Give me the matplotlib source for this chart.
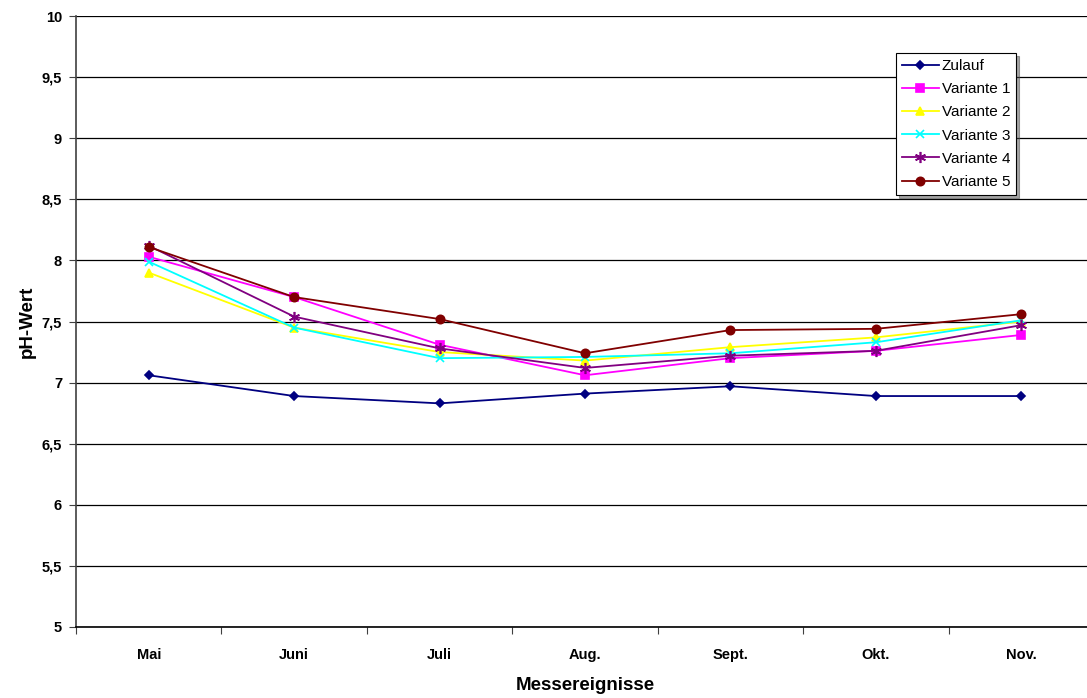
import matplotlib
matplotlib.use("Agg")
import matplotlib.pyplot as plt

plt.rcParams['font.family'] = ['Liberation Sans', 'DejaVu Sans']

months = ['Mai', 'Juni', 'Juli', 'Aug.', 'Sept.', 'Okt.', 'Nov.']
zulauf = [7.06, 6.89, 6.83, 6.91, 6.97, 6.89, 6.89]
variante1 = [8.03, 7.70, 7.31, 7.06, 7.20, 7.26, 7.39]
variante2 = [7.90, 7.45, 7.25, 7.18, 7.29, 7.37, 7.50]
variante3 = [7.99, 7.45, 7.20, 7.21, 7.24, 7.33, 7.51]
variante4 = [8.12, 7.54, 7.28, 7.12, 7.22, 7.26, 7.47]
variante5 = [8.11, 7.70, 7.52, 7.24, 7.43, 7.44, 7.56]

series = [
    ('Zulauf', zulauf, '#000080', 'D', 4.5),
    ('Variante 1', variante1, '#FF00FF', 's', 6),
    ('Variante 2', variante2, '#FFFF00', '^', 6),
    ('Variante 3', variante3, '#00FFFF', 'x', 6),
    ('Variante 4', variante4, '#800080', (6, 2, 0), 8),
    ('Variante 5', variante5, '#800000', 'o', 6),
]

fig = plt.figure(figsize=(10.87, 6.98), dpi=100)
ax = fig.add_axes([76 / 1087, 71 / 698, (1094 - 76) / 1087, 611 / 698])

x = list(range(len(months)))
for name, vals, col, mk, ms in series:
    ax.plot(x, vals, color=col, marker=mk, markersize=ms, linewidth=1.3,
            markeredgewidth=1.2, label=name)

ax.set_xlim(-0.5, len(months) - 0.5)
ax.set_ylim(5, 10)
ax.set_yticks([5 + 0.5 * i for i in range(11)])
ax.set_yticklabels([f'{5 + 0.5 * i:g}'.replace('.', ',') for i in range(11)],
                   fontsize=10.5, fontweight='bold')

ax.set_xticks([i - 0.5 for i in range(len(months) + 1)])
ax.set_xticklabels([])
ax.set_xticks(x, minor=True)
ax.set_xticklabels(months, minor=True, fontsize=10.5, fontweight='bold')
ax.tick_params(axis='x', which='minor', length=0, pad=15)
ax.tick_params(axis='x', which='major', direction='out', length=5, color='#404040')
ax.tick_params(axis='y', direction='out', length=5, color='#404040', pad=5)

ax.yaxis.grid(True, color='black', linewidth=0.9)
ax.set_axisbelow(True)
for s in ['top', 'right']:
    ax.spines[s].set_visible(False)
ax.spines['left'].set_color('#404040')
ax.spines['left'].set_linewidth(1.2)
ax.spines['bottom'].set_color('black')
ax.spines['bottom'].set_linewidth(1.2)

ax.set_ylabel('pH-Wert', fontsize=13.5, fontweight='bold', labelpad=4)
ax.set_xlabel('Messereignisse', fontsize=13.5, fontweight='bold', labelpad=11)

leg = ax.legend(loc='upper left', bbox_to_anchor=(820 / 1018, 1 - 37 / 611),
                frameon=True, fancybox=False, shadow=True, fontsize=11,
                handlelength=2.4, handletextpad=0.2, labelspacing=0.6,
                borderpad=0.4, borderaxespad=0)
leg.get_frame().set_edgecolor('black')
leg.get_frame().set_linewidth(0.8)

fig.savefig('out.png', dpi=100)
